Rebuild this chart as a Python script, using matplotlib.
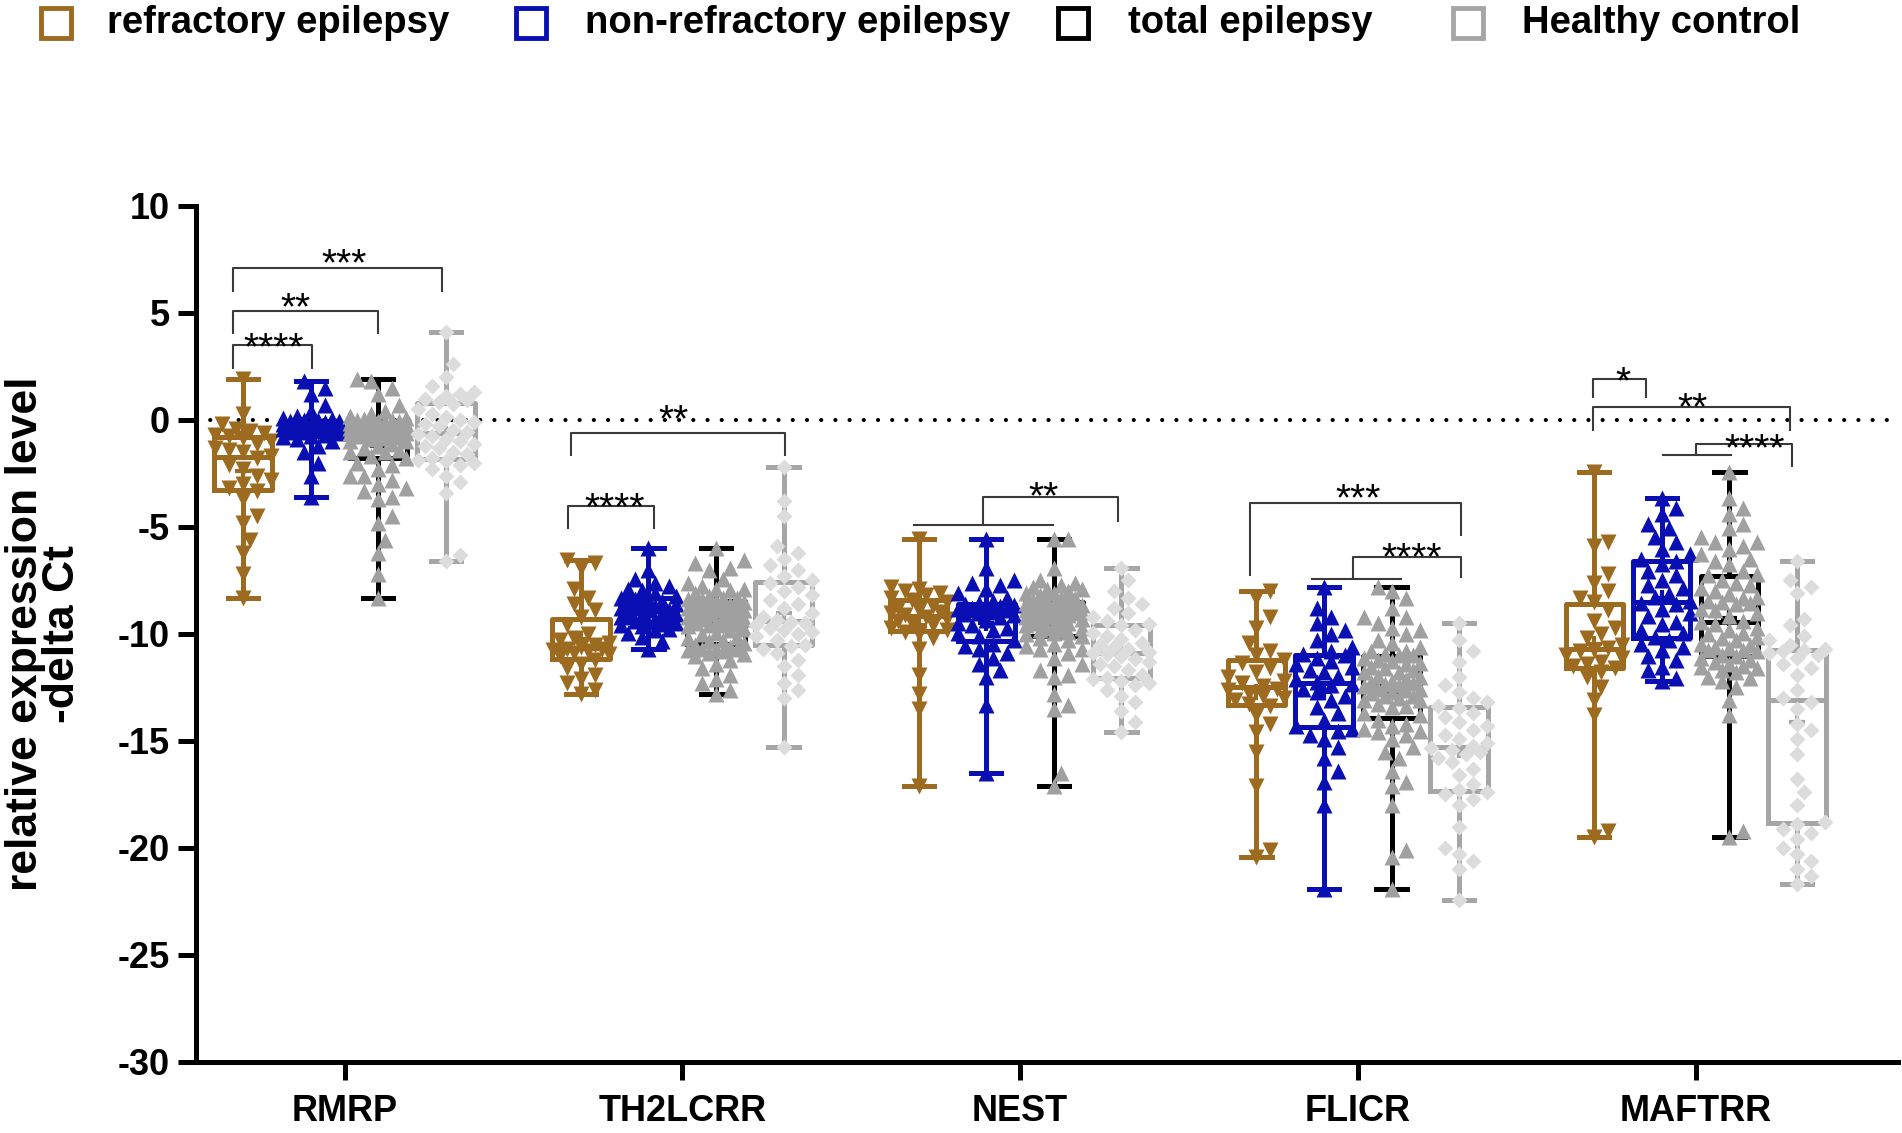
import numpy as np
import matplotlib
matplotlib.use("Agg")
import matplotlib.pyplot as plt
from matplotlib.patches import Rectangle

plt.rcParams['font.family'] = ['Liberation Sans', 'DejaVu Sans']
plt.rcParams['axes.unicode_minus'] = False

genes = ["RMRP", "TH2LCRR", "NEST", "FLICR", "MAFTRR"]
group_names = ["refractory epilepsy", "non-refractory epilepsy", "total epilepsy", "Healthy control"]

# -delta Ct values (one list per gene and group)
rmrp_refractory = [-8.3, -7.2, -6.2, -5.6, -4.8, -4.5, -3.7, -3.3, -3.2, -3.0, -2.8, -2.6, -2.3, -2.1, -1.8,
                   -1.7, -1.5, -1.4, -1.3, -1.1, -1.0, -0.85, -0.75, -0.7, -0.6, -0.5, -0.4, -0.2, 0.3, 1.9]
rmrp_non_refractory = [-3.6, -2.6, -2.0, -1.5, -1.2, -1.0, -0.9, -0.8, -0.75, -0.68, -0.62, -0.58, -0.55, -0.5,
                       -0.47, -0.44, -0.4, -0.37, -0.34, -0.31, -0.29, -0.26, -0.23, -0.2, -0.18, -0.15, -0.12,
                       -0.09, -0.06, -0.04, -0.02, 0.0, 0.05, 0.1, 0.2, 0.4, 0.7, 1.2, 1.5, 1.8]
rmrp_healthy = [-6.6, -6.3, -3.4, -2.9, -2.6, -2.3, -2.1, -2.0, -1.9, -1.85, -1.8, -1.6, -1.5, -1.3, -1.2, -1.1,
                -1.0, -0.9, -0.75, -0.65, -0.55, -0.45, -0.3, -0.2, -0.1, 0.0, 0.15, 0.3, 0.5, 0.75, 0.85, 0.95,
                1.0, 1.1, 1.2, 1.3, 1.6, 2.0, 2.6, 4.1]

th2lcrr_refractory = [-12.8, -12.6, -12.3, -12.1, -11.9, -11.6, -11.4, -11.2, -11.05, -10.95, -10.9, -10.8, -10.75,
                      -10.7, -10.68, -10.62, -10.5, -10.4, -10.3, -10.2, -10.0, -9.6, -9.2, -8.9, -8.6, -8.3, -7.9,
                      -6.9, -6.7, -6.56]
th2lcrr_non_refractory = [-10.7, -10.35, -10.15, -9.95, -9.8, -9.75, -9.62, -9.6, -9.52, -9.5, -9.42, -9.38, -9.3,
                          -9.28, -9.2, -9.12, -9.05, -9.02, -8.95, -8.9, -8.86, -8.8, -8.77, -8.7, -8.62, -8.6,
                          -8.52, -8.45, -8.38, -8.35, -8.3, -8.22, -8.1, -7.95, -7.9, -7.75, -7.6, -7.45, -7.0, -6.0]
th2lcrr_healthy = [-15.3, -13.0, -12.6, -12.3, -11.9, -11.5, -11.2, -10.9, -10.7, -10.55, -10.5, -10.3, -10.1,
                   -10.0, -9.9, -9.8, -9.7, -9.6, -9.5, -9.45, -9.35, -9.2, -9.0, -8.8, -8.6, -8.4, -8.2, -8.0,
                   -7.8, -7.6, -7.5, -7.3, -7.0, -6.8, -6.5, -6.2, -5.9, -4.5, -3.8, -2.2]

nest_refractory = [-17.1, -13.5, -12.8, -11.9, -10.7, -10.2, -10.0, -9.9, -9.8, -9.7, -9.6, -9.5, -9.4, -9.3, -9.2,
                   -9.1, -9.0, -8.95, -8.9, -8.8, -8.7, -8.5, -8.4, -8.3, -8.2, -8.1, -8.0, -7.9, -7.8, -5.57]
nest_non_refractory = [-16.5, -13.3, -12.0, -11.7, -11.4, -11.1, -10.9, -10.7, -10.55, -10.45, -10.3, -10.1, -9.95,
                       -9.8, -9.7, -9.6, -9.5, -9.35, -9.2, -9.12, -9.08, -9.0, -8.95, -8.9, -8.85, -8.8, -8.75,
                       -8.7, -8.65, -8.6, -8.55, -8.45, -8.3, -8.1, -7.9, -7.7, -7.6, -7.5, -6.9, -5.57]
nest_healthy = [-14.6, -14.1, -13.6, -13.2, -12.9, -12.6, -12.4, -12.3, -12.2, -12.1, -12.05, -11.9, -11.7, -11.5,
                -11.4, -11.3, -11.15, -11.05, -10.95, -10.9, -10.85, -10.7, -10.6, -10.5, -10.4, -10.25, -10.1,
                -9.95, -9.8, -9.6, -9.55, -9.4, -9.2, -9.0, -8.8, -8.6, -8.3, -8.0, -7.5, -6.9]

flicr_refractory = [-20.4, -20.1, -17.1, -15.5, -14.6, -14.2, -13.8, -13.35, -13.25, -13.1, -13.0, -12.9, -12.75,
                    -12.6, -12.55, -12.45, -12.3, -12.2, -12.0, -11.8, -11.6, -11.35, -11.2, -11.0, -10.8, -10.4,
                    -9.7, -9.2, -8.3, -7.97]
flicr_non_refractory = [-21.9, -18.0, -16.9, -16.4, -15.8, -15.3, -14.9, -14.7, -14.55, -14.45, -14.3, -14.0, -13.7,
                        -13.4, -13.1, -12.9, -12.7, -12.55, -12.4, -12.35, -12.25, -12.1, -11.95, -11.8, -11.7,
                        -11.55, -11.4, -11.25, -11.1, -11.0, -10.95, -10.8, -10.6, -10.3, -10.0, -9.8, -9.5, -9.2,
                        -8.8, -7.8]
flicr_healthy = [-22.45, -21.0, -20.6, -20.3, -20.0, -19.0, -18.0, -17.7, -17.5, -17.4, -17.3, -17.0, -16.6, -16.3,
                 -16.0, -15.8, -15.6, -15.5, -15.4, -15.35, -15.25, -15.1, -14.9, -14.7, -14.5, -14.3, -14.1, -13.9,
                 -13.7, -13.45, -13.35, -13.2, -13.0, -12.7, -12.4, -12.0, -11.3, -10.8, -10.3, -9.5]

maftrr_refractory = [-19.5, -19.2, -13.8, -13.1, -12.5, -12.0, -11.8, -11.6, -11.5, -11.4, -11.3, -11.1, -11.0,
                     -10.8, -10.75, -10.65, -10.5, -10.2, -10.0, -9.7, -9.4, -8.9, -8.5, -8.3, -8.0, -7.6, -7.2,
                     -5.9, -5.7, -2.45]
maftrr_non_refractory = [-12.2, -12.05, -11.7, -11.55, -11.2, -11.05, -10.75, -10.6, -10.45, -10.3, -10.15, -9.95,
                         -9.8, -9.55, -9.45, -9.15, -9.0, -8.85, -8.6, -8.55, -8.45, -8.25, -8.15, -7.85, -7.7, -7.5,
                         -7.25, -7.05, -6.75, -6.6, -6.5, -6.25, -6.05, -5.7, -5.45, -5.05, -4.85, -4.4, -4.1, -3.65]
maftrr_healthy = [-21.7, -21.3, -21.0, -20.6, -20.3, -20.0, -19.6, -19.3, -19.1, -18.9, -18.8, -18.0, -17.4, -16.8,
                  -15.6, -14.9, -14.5, -14.2, -13.5, -13.2, -13.0, -12.6, -11.9, -11.6, -11.4, -11.1, -11.0, -10.9,
                  -10.8, -10.75, -10.7, -10.5, -10.3, -10.1, -9.6, -9.3, -8.1, -7.8, -7.5, -6.6]

refractory = [rmrp_refractory, th2lcrr_refractory, nest_refractory, flicr_refractory, maftrr_refractory]
non_refractory = [rmrp_non_refractory, th2lcrr_non_refractory, nest_non_refractory,
                  flicr_non_refractory, maftrr_non_refractory]
healthy = [rmrp_healthy, th2lcrr_healthy, nest_healthy, flicr_healthy, maftrr_healthy]
# total epilepsy = refractory + non-refractory patients
total = [r + n for r, n in zip(refractory, non_refractory)]

# significance brackets: (polyline x, polyline y, label, label x, label y)
brackets = [
    ([-0.33, -0.33, -0.095, -0.095], [2.4, 3.5, 3.5, 2.4], "****", -0.21, 3.9),
    ([-0.33, -0.33, 0.10, 0.10], [4.0, 5.1, 5.1, 4.0], "**", -0.145, 5.75),
    ([-0.33, -0.33, 0.29, 0.29], [6.0, 7.1, 7.1, 6.0], "***", 0.0, 7.8),
    ([0.672, 0.672, 1.305, 1.305], [-1.7, -0.6, -0.6, -1.7], "**", 0.973, 0.52),
    ([0.663, 0.663, 0.917, 0.917], [-5.1, -4.0, -4.0, -5.1], "****", 0.80, -3.57),
    ([1.684, 2.10], [-4.9, -4.9], "", 0, 0),
    ([1.89, 1.89, 2.29, 2.29], [-4.9, -3.6, -3.6, -4.75], "**", 2.07, -3.1),
    ([2.68, 2.68, 3.305, 3.305], [-7.3, -3.9, -3.9, -5.4], "***", 3.0, -3.17),
    ([2.86, 3.13], [-7.45, -7.45], "", 0, 0),
    ([2.985, 2.985, 3.305, 3.305], [-7.45, -6.4, -6.4, -7.4], "****", 3.16, -5.93),
    ([3.695, 3.695, 3.852, 3.852], [1.05, 1.9, 1.9, 1.05], "*", 3.784, 2.3),
    ([3.695, 3.695, 4.28, 4.28], [-0.5, 0.6, 0.6, -0.5], "**", 3.99, 1.08),
    ([3.90, 4.107], [-1.65, -1.65], "", 0, 0),
    ([4.0, 4.0, 4.287, 4.287], [-1.65, -1.1, -1.1, -2.2], "****", 4.175, -0.82),
]

box_colors = ["#9c6b20", "#0a0fb4", "#000000", "#a6a6a6"]
point_colors = ["#9c6b20", "#0a0fb4", "#a0a0a0", "#dcdcdc"]
markers = ["v", "^", "^", "D"]
marker_sizes = [11.5, 11.5, 11.5, 8.5]
offsets = [-0.3, -0.1, 0.1, 0.3]


def swarm(vals, center, marker_px=13.0, step_px=7.0, max_px=30.0):
    # spread points sideways so they don't pile up (pixel units of this figure)
    x_px, y_px = 338.0, 21.4
    vals = np.asarray(vals, float)
    xs = np.full(len(vals), float(center))
    cands = [0.0]
    k = 1
    while k * step_px <= max_px:
        cands += [k * step_px, -k * step_px]
        k += 1
    placed = []
    for i in np.argsort(vals):
        y = vals[i] * y_px
        best, best_d = 0.0, -1.0
        for c in cands:
            d = min([np.hypot(c - px, y - py) for px, py in placed] or [1e9])
            if d >= marker_px:
                best = c
                break
            if d > best_d:
                best, best_d = c, d
        placed.append((best, y))
        xs[i] = center + best / x_px
    return xs


fig = plt.figure(figsize=(19.02, 11.33), dpi=100)
ax = fig.add_axes([0.103, 0.0627, 0.895, 0.7555])

ax.axhline(0, color="black", lw=3, ls=(0, (0.01, 3.4)), dash_capstyle="round", zorder=2.5)

for gi, data in enumerate([refractory, non_refractory, total, healthy]):
    pos = [i + offsets[gi] for i in range(len(genes))]
    c = box_colors[gi]
    ax.boxplot(data, positions=pos, widths=0.17, whis=(0, 100), showfliers=False, showmeans=True,
               boxprops=dict(color=c, lw=3.6), whiskerprops=dict(color=c, lw=3.6),
               capprops=dict(color=c, lw=3.6), medianprops=dict(color=c, lw=3.6),
               meanprops=dict(marker="+", markeredgecolor=c, markersize=12, markeredgewidth=3),
               capwidths=0.09, manage_ticks=False, zorder=2)
    for i, vals in enumerate(data):
        xs = swarm(vals, pos[i])
        ax.plot(xs, vals, ls="none", marker=markers[gi], ms=marker_sizes[gi],
                color=point_colors[gi], mec="none", zorder=3)

for bx, by, label, tx, ty in brackets:
    ax.plot(bx, by, color="#3a3a3a", lw=1.5, zorder=4, solid_capstyle="butt")
    if label:
        ax.text(tx, ty - 1.05, label, ha="center", va="baseline", fontsize=28, color="black", zorder=5)

ax.set_xlim(-0.44, 4.6)
ax.set_ylim(-30, 10)
ax.set_yticks(range(-30, 11, 5))
ax.set_xticks(range(len(genes)))
ax.set_xticklabels(genes)
for s in ["top", "right"]:
    ax.spines[s].set_visible(False)
for s in ["left", "bottom"]:
    ax.spines[s].set_linewidth(3.6)
ax.tick_params(axis="both", length=13, width=3.6, labelsize=26)
ax.tick_params(axis="x", pad=10)
ax.tick_params(axis="y", pad=6)
for lab in ax.get_xticklabels() + ax.get_yticklabels():
    lab.set_fontweight("bold")

fig.text(0.0231, 0.4404, "relative expression level\n-delta Ct", rotation=90, ha="center", va="center",
         fontsize=32, fontweight="bold", linespacing=0.9, multialignment="center")

# legend across the top
W, H = 1902.0, 1133.0
square_x = [56, 531, 1073, 1468]
text_x = [107, 585, 1128, 1522]
for name, c, sx, tx in zip(group_names, box_colors, square_x, text_x):
    fig.add_artist(Rectangle(((sx - 15) / W, 1 - (23 + 15) / H), 30 / W, 30 / H, transform=fig.transFigure,
                             facecolor="white", edgecolor=c, lw=3.5))
    fig.text(tx / W, 1 - 23 / H, name, ha="left", va="center", fontsize=27.5, fontweight="bold")

fig.savefig("out.png", dpi=100)
